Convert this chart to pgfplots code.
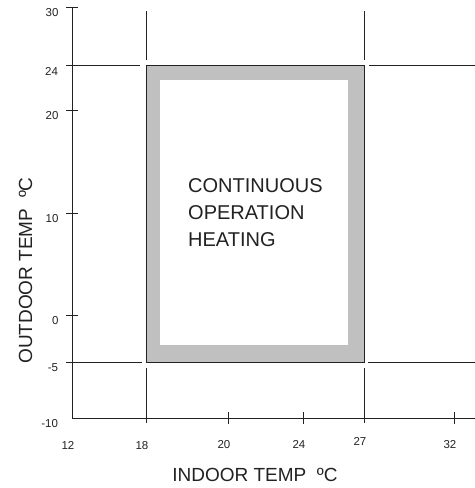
\documentclass[border=0pt]{standalone}
\usepackage{fontspec}
\setmainfont{Liberation Sans}
\usepackage{pgfplots}
\pgfplotsset{compat=1.18}
\definecolor{boxgray}{HTML}{C0C0C0}
\definecolor{linec}{HTML}{222222}
\begin{document}
\begin{tikzpicture}
\begin{axis}[
  at={(72bp,70bp)}, anchor=south west,
  x=1bp, y=1bp,
  x coord trafo/.code={\pgfmathparse{(#1<18)?(72+(#1-12)*74/6):((#1<20)?(146+(#1-18)*41):((#1<24)?(228+(#1-20)*18.75):((#1<27)?(303+(#1-24)*61/3):(364+(#1-27)*18))))}},
  y coord trafo/.code={\pgfmathparse{(#1<-5)?(70+(#1+10)*11.2):((#1<0)?(126+(#1+5)*9.4):((#1<10)?(173+(#1)*10.2):((#1<20)?(275+(#1-10)*10.3):((#1<24)?(378+(#1-20)*11.25):(423+(#1-24)*58/6)))))}},
  xmin=12, xmax=33.17, ymin=-10, ymax=30,
  axis x line=bottom, axis y line=left,
  axis line style={-, linec, line width=0.8bp},
  clip=false,
  tick align=center,
  major tick length=11bp,
  tick style={linec, line width=0.8bp},
  xtick={20,24,32}, xticklabels={20,24,32},
  extra x ticks={12,18,27}, extra x tick labels={12,18,\raisebox{4bp}[\height][\depth]{27}},
  extra x tick style={major tick length=0pt, xticklabel style={yshift=-7bp}},
  ytick={0,10,20,30}, yticklabels={0,10,20,30},
  extra y ticks={-10,-5,24}, extra y tick labels={-10,-5,24},
  extra y tick style={major tick length=0pt, yticklabel style={xshift=-6bp}},
  ticklabel style={font=\fontsize{11.5bp}{13bp}\selectfont, text=linec},
  xticklabel style={yshift=-13bp, xshift=-4bp},
  yticklabel style={xshift=-4.5bp, yshift=-6bp},
]
% operating range box
\addplot[fill=boxgray, draw=linec, line width=0.8bp] coordinates {(18,-5) (27,-5) (27,24) (18,24)} -- cycle;
\addplot[fill=white, draw=none] coordinates {(18.34,-3.19) (26.21,-3.19) (26.21,22.67) (18.34,22.67)} -- cycle;
% guide lines
\addplot[linec, line width=0.8bp] coordinates {(11.51,24) (17.51,24)};
\addplot[linec, line width=0.8bp] coordinates {(27.28,24) (33.17,24)};
\addplot[linec, line width=0.8bp] coordinates {(11.51,-5) (17.68,-5)};
\addplot[linec, line width=0.8bp] coordinates {(27.22,-5) (33.17,-5)};
\addplot[linec, line width=0.8bp] coordinates {(18,29.59) (18,24.52)};
\addplot[linec, line width=0.8bp] coordinates {(18,-5.54) (18,-10.45)};
\addplot[linec, line width=0.8bp] coordinates {(27,29.59) (27,24.52)};
\addplot[linec, line width=0.8bp] coordinates {(27,-5.54) (27,-10.45)};
\end{axis}
\node[rotate=90, anchor=base, inner sep=0pt, font=\fontsize{19bp}{22bp}\selectfont, text=linec] at (32bp,217.5bp) {OUTDOOR TEMP\ \ ºC};
\node[anchor=base, inner sep=0pt, font=\fontsize{19bp}{22bp}\selectfont, text=linec] at (255bp,7bp) {INDOOR TEMP\ \ ºC};
\node[anchor=base west, inner sep=0pt, font=\fontsize{20bp}{24bp}\selectfont, text=linec] at (188bp,295bp) {CONTINUOUS};
\node[anchor=base west, inner sep=0pt, font=\fontsize{20bp}{24bp}\selectfont, text=linec] at (188bp,268bp) {OPERATION};
\node[anchor=base west, inner sep=0pt, font=\fontsize{20bp}{24bp}\selectfont, text=linec] at (188bp,241bp) {HEATING};
\pgfresetboundingbox
\useasboundingbox (0,0) rectangle (475bp,488bp);
\end{tikzpicture}
\end{document}
